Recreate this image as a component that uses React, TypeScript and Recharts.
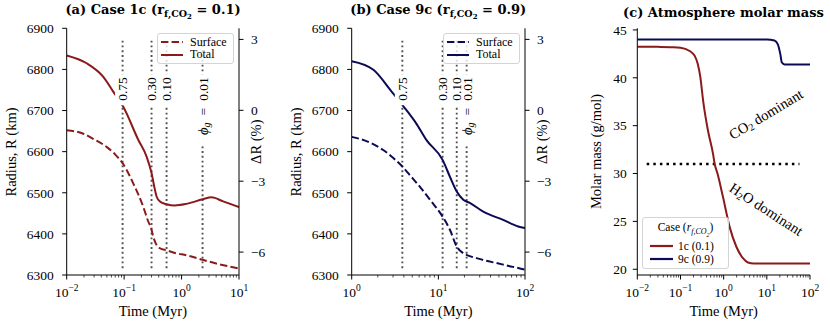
import React from 'react';
import { LineChart, Line, XAxis, YAxis, ReferenceDot, Legend } from 'recharts';

const SERIF = '"Liberation Serif", "Times New Roman", serif';
const TITLE_SERIF = '"DejaVu Serif", serif';
const RED = '#8b1a1a';
const NAVY = '#0b0b55';
const GREY = '#505050';

// (a) case 1c -- time (Myr) vs radius (km)
const surface1cTime = [0.01, 0.02, 0.03, 0.05, 0.07, 0.094, 0.144, 0.215, 0.26, 0.3, 0.32, 0.367, 0.42, 0.548, 0.8, 1.22, 2.32, 4.6, 10];
const surface1cRadius = [6652, 6643, 6630, 6611, 6593, 6572, 6523, 6466, 6432, 6410, 6394, 6373, 6365, 6360, 6353, 6348, 6337, 6326, 6316];
const total1cTime = [0.01, 0.0223, 0.0434, 0.0646, 0.0966, 0.176, 0.246, 0.3, 0.344, 0.367, 0.42, 0.548, 0.764, 1.22, 2.32, 3.33, 5.3, 10];
const total1cRadius = [6834, 6815, 6782, 6746, 6709, 6629, 6588, 6548, 6507, 6491, 6479, 6472, 6469, 6473, 6484, 6489, 6479, 6465];
const phi1cTime = [0.094, 0.3, 0.548, 2.32];

// (b) case 9c
const surface9cTime = [1, 1.5, 2.31, 3.0, 3.84, 5, 6.1, 8, 11.2, 13.6, 16.3, 19.4, 23, 27.7, 35, 47, 65, 83.5, 100];
const surface9cRadius = [6636, 6625, 6604, 6585, 6564, 6536, 6515, 6483, 6442, 6410, 6369, 6353, 6346, 6341, 6335, 6329, 6322, 6317, 6313];
const total9cTime = [1, 1.78, 2.89, 4.0, 5.5, 7.3, 11.2, 13.6, 16.3, 19.4, 23.3, 33, 56, 83.5, 100];
const total9cRadius = [6820, 6799, 6746, 6709, 6670, 6628, 6580, 6539, 6503, 6483, 6475, 6454, 6434, 6418, 6414];
const phi9cTime = [3.84, 11.2, 16.3, 21.2];

// melt-fraction markers (shared)
const phiLabels = ['0.75', '0.30', '0.10', '0.01'];
const phiLineSpan = [6870, 6314];
const phiLabelTop = 6781;

// (c) molar mass (g/mol)
const molar1cTime = [0.01, 0.03, 0.06, 0.1, 0.163, 0.213, 0.25, 0.288, 0.335, 0.433, 0.565, 0.62, 0.72, 0.96, 1.38, 1.97, 2.8, 3.65, 5, 100];
const molar1cValue = [43.25, 43.23, 43.2, 43.15, 42.8, 42.3, 41.5, 40.1, 37.6, 34.5, 32.1, 31.0, 30.0, 27.6, 24.4, 22.35, 21.15, 20.7, 20.6, 20.6];
const molar9cTime = [0.01, 1, 10, 15, 18, 20.5, 22.3, 25.8, 30, 100];
const molar9cValue = [44.0, 44.0, 44.0, 43.9, 43.5, 42.5, 41.6, 41.4, 41.4, 41.4];
const dominanceTime = [0.0165, 57];
const dominanceLevel = 31;

const radiusTicks = [6300, 6400, 6500, 6600, 6700, 6800, 6900];
const deltaTicks = [3, 0, -3, -6];
const molarTicks = [20, 25, 30, 35, 40, 45];
const decadesA = [0.01, 0.1, 1, 10];
const decadesB = [1, 10, 100];
const decadesC = [0.01, 0.1, 1, 10, 100];

const withMinors = (decades: number[]) => {
  const out: number[] = [];
  decades.forEach((d, i) => {
    out.push(d);
    if (i < decades.length - 1) for (let k = 2; k <= 9; k++) out.push(d * k);
  });
  return out;
};

const pairs = (xs: number[], ys: number[], key: string) => xs.map((t, i) => ({ t, [key]: ys[i] }));

const minusSign = (v: number) => String(v).replace('-', '\u2212');

const LogTick = (props: any) => {
  const { x, y, payload } = props;
  const lg = Math.log10(payload.value);
  const e = Math.round(lg);
  const major = Math.abs(lg - e) < 1e-6;
  return (
    <g>
      <line x1={x} x2={x} y1={y} y2={y + (major ? 4.5 : 2.5)} stroke="#000" strokeWidth={major ? 1 : 0.7} />
      {major && (
        <text x={x} y={y + 21.5} textAnchor="middle" fontFamily={SERIF} fontSize={13.5} fill="#000">
          10
          <tspan dy={-6} fontSize={9.5}>{e < 0 ? '\u2212' + -e : String(e)}</tspan>
        </text>
      )}
    </g>
  );
};

const AxisTitle = (props: any) => {
  const { px, py, rot, children } = props;
  return (
    <text
      x={px}
      y={py}
      transform={rot ? `rotate(${rot} ${px} ${py})` : undefined}
      textAnchor="middle"
      dominantBaseline={rot ? 'central' : 'auto'}
      fontFamily={SERIF}
      fontSize={14.5}
      fill="#000"
    >
      {children}
    </text>
  );
};

const phiText = (i: number) =>
  i === 3 ? (
    <>
      <tspan fontStyle="italic" fontSize={14.5}>{'\u03d5'}</tspan>
      <tspan fontStyle="italic" fontSize={10} dy={3}>g</tspan>
      <tspan dy={-3} dx={7}>=</tspan>
      <tspan dx={7}>{phiLabels[i]}</tspan>
    </>
  ) : (
    phiLabels[i]
  );

const phiLen = (i: number) => (i === 3 ? 66 : 25);

const phiBox = (i: number) => (p: any) => (
  <rect x={p.cx - 7.5} y={p.cy - 3} width={15} height={phiLen(i) + 6} fill="#fff" />
);

const phiTextShape = (i: number) => (p: any) => (
  <text
    transform={`translate(${p.cx},${p.cy}) rotate(-90)`}
    textAnchor="end"
    dominantBaseline="central"
    fontFamily={SERIF}
    fontSize={13.5}
    fill="#000"
  >
    {phiText(i)}
  </text>
);

const RadiusLegend = (props: any) => {
  const items = (props.payload || []).filter((e: any) => e.type !== 'none');
  return (
    <div
      style={{
        width: 77,
        height: 31,
        boxSizing: 'border-box',
        border: '1px solid #d4d4d4',
        borderRadius: 3,
        background: 'rgba(255,255,255,0.8)',
        padding: '2px 0 0 3px',
        fontFamily: SERIF,
        fontSize: 12,
      }}
    >
      {items.map((e: any) => (
        <div key={e.value} style={{ display: 'flex', alignItems: 'center', height: 12.6, lineHeight: '12.6px' }}>
          <svg width={22} height={4} style={{ display: 'block' }}>
            <line x1={0} x2={22} y1={2} y2={2} stroke={e.color} strokeWidth={2} strokeDasharray={e.payload?.strokeDasharray} />
          </svg>
          <span style={{ marginLeft: 7 }}>{e.value}</span>
        </div>
      ))}
    </div>
  );
};

const MolarLegend = (props: any) => {
  const items = (props.payload || []).filter((e: any) => e.type !== 'none');
  return (
    <div
      style={{
        width: 87,
        height: 52,
        boxSizing: 'border-box',
        border: '1px solid #d4d4d4',
        borderRadius: 3,
        background: 'rgba(255,255,255,0.8)',
        paddingTop: 2,
        fontFamily: SERIF,
        fontSize: 11.5,
      }}
    >
      <div style={{ textAlign: 'center', height: 15, lineHeight: '15px' }}>
        Case (<i>r</i>
        <sub style={{ fontSize: 8, fontStyle: 'italic' }}>f,CO<sub style={{ fontSize: 6 }}>2</sub></sub>)
      </div>
      {items.map((e: any, i: number) => (
        <div key={e.value} style={{ display: 'flex', alignItems: 'center', height: 13.5, marginTop: i === 0 ? 4 : 0, paddingLeft: 7 }}>
          <svg width={23} height={4} style={{ display: 'block' }}>
            <line x1={0} x2={23} y1={2} y2={2} stroke={e.color} strokeWidth={2.2} />
          </svg>
          <span style={{ marginLeft: 5 }}>{e.value}</span>
        </div>
      ))}
    </div>
  );
};

interface RadiusPanelProps {
  left: number;
  width: number;
  yAxisWidth: number;
  marginRight: number;
  color: string;
  domain: [number, number];
  decades: number[];
  surface: { t: number; R: number }[];
  total: { t: number; R: number }[];
  phiTimes: number[];
}

function RadiusPanel({ left, width, yAxisWidth, marginRight, color, domain, decades, surface, total, phiTimes }: RadiusPanelProps) {
  const w = width;
  const plotRight = w - marginRight - 40;
  return (
    <div style={{ position: 'absolute', left, top: 0 }}>
      <LineChart width={w} height={325} margin={{ top: 28.3, right: marginRight, bottom: 0, left: 0 }}>
        <XAxis
          dataKey="t"
          type="number"
          scale="log"
          domain={domain}
          allowDataOverflow
          ticks={withMinors(decades)}
          interval={0}
          tickSize={0}
          tickMargin={0}
          tickLine={false}
          tick={<LogTick />}
          height={50}
          stroke="#000"
          label={<AxisTitle px={(yAxisWidth + plotRight) / 2} py={316}>Time (Myr)</AxisTitle>}
        />
        <XAxis xAxisId="top" orientation="top" type="number" domain={[0, 1]} height={0} tick={false} tickLine={false} stroke="#000" />
        <YAxis
          type="number"
          domain={[6300, 6900]}
          ticks={radiusTicks}
          interval={0}
          width={yAxisWidth}
          tickSize={4.5}
          tickMargin={8.5}
          stroke="#000"
          tick={{ fontFamily: SERIF, fontSize: 13.5, fill: '#000' }}
          label={<AxisTitle px={yAxisWidth - 55.5} py={152} rot={-90}>Radius, R (km)</AxisTitle>}
        />
        <YAxis
          yAxisId="delta"
          orientation="right"
          type="number"
          domain={[-6.97, 3.47]}
          allowDataOverflow
          ticks={deltaTicks}
          interval={0}
          width={40}
          tickSize={4.5}
          tickMargin={7.5}
          tickFormatter={minusSign}
          stroke="#000"
          tick={{ fontFamily: SERIF, fontSize: 13.5, fill: '#000' }}
          label={<AxisTitle px={plotRight + 17.5} py={141.7} rot={-90}>{'\u0394R (%)'}</AxisTitle>}
        />
        {phiTimes.map((t, i) => (
          <Line
            key={'phi' + i}
            data={phiLineSpan.map((R) => ({ t, R }))}
            dataKey="R"
            type="linear"
            stroke={GREY}
            strokeWidth={1.9}
            strokeDasharray="1.9 2.9"
            dot={false}
            legendType="none"
            isAnimationActive={false}
          />
        ))}
        <Line data={surface} dataKey="R" name="Surface" type="monotone" stroke={color} strokeWidth={2} strokeDasharray="7.4 3.2" dot={false} isAnimationActive={false} />
        <Line data={total} dataKey="R" name="Total" type="monotone" stroke={color} strokeWidth={2} dot={false} isAnimationActive={false} />
        {phiTimes.map((t, i) => (
          <ReferenceDot key={'box' + i} x={t} y={phiLabelTop} r={0} zIndex={900} shape={phiBox(i)} />
        ))}
        {phiTimes.map((t, i) => (
          <ReferenceDot key={'lab' + i} x={t} y={phiLabelTop} r={0} zIndex={900} shape={phiTextShape(i)} />
        ))}
        <Legend
          layout="vertical"
          align="center"
          verticalAlign="middle"
          content={<RadiusLegend />}
          wrapperStyle={{ left: plotRight - 82, top: 32.7, width: 77, height: 31 }}
        />
      </LineChart>
    </div>
  );
}

function MolarPanel() {
  const left = 560;
  const yw = 77.3;
  const mr = 20;
  return (
    <div style={{ position: 'absolute', left, top: 0 }}>
      <LineChart width={270} height={325} margin={{ top: 28.3, right: mr, bottom: 0, left: 0 }}>
        <XAxis
          dataKey="t"
          type="number"
          scale="log"
          domain={[0.01, 100]}
          allowDataOverflow
          ticks={withMinors(decadesC)}
          interval={0}
          tickSize={0}
          tickMargin={0}
          tickLine={false}
          tick={<LogTick />}
          height={50}
          stroke="#000"
          label={<AxisTitle px={yw + (270 - mr - yw) / 2} py={316}>Time (Myr)</AxisTitle>}
        />
        <XAxis xAxisId="top" orientation="top" type="number" domain={[0, 1]} height={0} tick={false} tickLine={false} stroke="#000" />
        <YAxis
          type="number"
          domain={[19.4, 45.17]}
          allowDataOverflow
          ticks={molarTicks}
          interval={0}
          width={yw}
          tickSize={4.5}
          tickMargin={6}
          stroke="#000"
          tick={{ fontFamily: SERIF, fontSize: 13.5, fill: '#000' }}
          label={<AxisTitle px={36} py={151.5} rot={-90}>Molar mass (g/mol)</AxisTitle>}
        />
        <YAxis yAxisId="right" orientation="right" type="number" domain={[0, 1]} width={0} tick={false} tickLine={false} stroke="#000" />
        <Line
          data={dominanceTime.map((t) => ({ t, m: dominanceLevel }))}
          dataKey="m"
          type="linear"
          stroke="#000"
          strokeWidth={2.5}
          strokeDasharray="2.5 4.1"
          dot={false}
          legendType="none"
          isAnimationActive={false}
        />
        <Line data={pairs(molar1cTime, molar1cValue, 'm')} dataKey="m" name="1c (0.1)" type="monotone" stroke={RED} strokeWidth={2} dot={false} isAnimationActive={false} />
        <Line data={pairs(molar9cTime, molar9cValue, 'm')} dataKey="m" name="9c (0.9)" type="monotone" stroke={NAVY} strokeWidth={2} dot={false} isAnimationActive={false} />
        <ReferenceDot
          x={9.53}
          y={36.2}
          r={0}
          zIndex={900}
          shape={(p: any) => (
            <text transform={`translate(${p.cx},${p.cy}) rotate(-31)`} textAnchor="middle" dominantBaseline="central" fontFamily={SERIF} fontSize={14.5} fill="#000">
              CO<tspan fontSize={10} dy={3}>2</tspan>
              <tspan dy={-3}> dominant</tspan>
            </text>
          )}
        />
        <ReferenceDot
          x={9.7}
          y={26.26}
          r={0}
          zIndex={900}
          shape={(p: any) => (
            <text transform={`translate(${p.cx},${p.cy}) rotate(33)`} textAnchor="middle" dominantBaseline="central" fontFamily={SERIF} fontSize={14.5} fill="#000">
              H<tspan fontSize={10} dy={3}>2</tspan>
              <tspan dy={-3}>O dominant</tspan>
            </text>
          )}
        />
        <Legend
          layout="vertical"
          align="center"
          verticalAlign="middle"
          content={<MolarLegend />}
          wrapperStyle={{ left: 82, top: 217, width: 87, height: 52 }}
        />
      </LineChart>
    </div>
  );
}

const PanelTitle = ({ x, y, children }: { x: number; y: number; children: React.ReactNode }) => (
  <text x={x} y={y} textAnchor="middle" fontFamily={TITLE_SERIF} fontWeight="bold" fontSize={13} fill="#000">
    {children}
  </text>
);

const caseTitle = (tag: string, name: string, r: string) => (
  <>
    {`(${tag}) Case ${name} (r`}
    <tspan fontSize={9.5} dy={3}>f,CO</tspan>
    <tspan fontSize={7} dy={2}>2</tspan>
    <tspan fontSize={13} dy={-5}>{` = ${r})`}</tspan>
  </>
);

export default function App() {
  return (
    <div style={{ position: 'absolute', left: 0, top: 0, width: 830, height: 325, background: '#fff', overflow: 'hidden' }}>
      <RadiusPanel
        left={0}
        width={280}
        yAxisWidth={66.7}
        marginRight={1}
        color={RED}
        domain={[0.01, 10]}
        decades={decadesA}
        surface={pairs(surface1cTime, surface1cRadius, 'R') as any}
        total={pairs(total1cTime, total1cRadius, 'R') as any}
        phiTimes={phi1cTime}
      />
      <RadiusPanel
        left={280}
        width={290}
        yAxisWidth={71.7}
        marginRight={5}
        color={NAVY}
        domain={[1, 100]}
        decades={decadesB}
        surface={pairs(surface9cTime, surface9cRadius, 'R') as any}
        total={pairs(total9cTime, total9cRadius, 'R') as any}
        phiTimes={phi9cTime}
      />
      <MolarPanel />
      <svg width={830} height={24} style={{ position: 'absolute', left: 0, top: 0 }}>
        <PanelTitle x={153} y={14}>{caseTitle('a', '1c', '0.1')}</PanelTitle>
        <PanelTitle x={438.3} y={14}>{caseTitle('b', '9c', '0.9')}</PanelTitle>
        <PanelTitle x={723.5} y={17}>(c) Atmosphere molar mass</PanelTitle>
      </svg>
    </div>
  );
}
